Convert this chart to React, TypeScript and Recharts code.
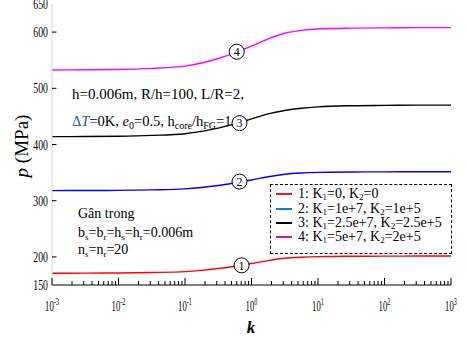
import React from 'react';
import { LineChart, Line, XAxis, YAxis, ReferenceDot, Legend, Customized } from 'recharts';

// ---- data ----
const kValues = [0.001, 0.00316, 0.01, 0.0316, 0.1, 0.178, 0.316, 0.562, 1, 1.78, 3.16, 5.62, 10, 31.6, 100, 316, 1000];
const pCurve1 = [171, 171.1, 171.4, 172.2, 173.8, 176.1, 179.3, 183.3, 188.2, 193.4, 197.5, 199.5, 200.5, 201.1, 201.3, 201.5, 201.5];
const pCurve2 = [318, 318.1, 318.4, 319.3, 321.1, 323.6, 327.1, 331.5, 336.9, 342.6, 347.1, 349.3, 350.4, 351.1, 351.3, 351.5, 351.5];
const pCurve3 = [414, 414.2, 414.7, 416.2, 419.2, 423.3, 429.2, 436.6, 445.5, 454.5, 460.5, 464.5, 467, 469, 469.6, 470, 470];
const pCurve4 = [532.5, 533, 533.5, 535.5, 539.5, 545, 553, 563, 575, 588, 598, 603, 605.5, 607, 607.5, 608, 608];

const xMajorTicks = [0.001, 0.01, 0.1, 1, 10, 100, 1000];
const xMajorExponents = ['-3', '-2', '-1', '0', '1', '2', '3'];
const xMinorMultipliers = [2, 3, 4, 5, 6, 7, 8, 9];
const xMinorDecades = [0.001, 0.01, 0.1, 1, 10, 100];
const yTicks = [150, 200, 300, 400, 500, 600, 650];

const seriesKeys = ['s1', 's2', 's3', 's4'];
const seriesIndex = ['1', '2', '3', '4'];
const k1Labels = ['0', '1e+7', '2.5e+7', '5e+7'];
const k2Labels = ['0', '1e+5', '2.5e+5', '2e+5'];
const lineColors = ['#ff0000', '#0000ff', '#000000', '#ff00ff'];
const legendColors = ['#f01c24', '#1a7ad4', '#000000', '#d4189e'];

const markerK = [0.71, 0.66, 0.66, 0.6];
const markerP = [185, 334, 438, 565];

const chartData = kValues.map((k, i) => ({
  k,
  s1: pCurve1[i],
  s2: pCurve2[i],
  s3: pCurve3[i],
  s4: pCurve4[i],
}));

const xMinorTicks = xMinorDecades.flatMap((d) => xMinorMultipliers.map((m) => +(m * d).toPrecision(3)));
const xAllTicks = [...xMajorTicks, ...xMinorTicks].sort((a, b) => a - b);

const SERIF = "Liberation Serif, Times New Roman, serif";

const majorIndex = (v: number) => xMajorTicks.findIndex((t) => Math.abs(Math.log10(t) - Math.log10(v)) < 1e-6);

const BottomTick = (props: any) => {
  const { x, y, payload } = props;
  const mi = majorIndex(payload.value);
  const major = mi >= 0;
  return (
    <g>
      <line x1={x} x2={x} y1={y} y2={y - (major ? 7 : 4)} stroke="#000" strokeWidth={1} />
      {major && (
        <text
          transform={`translate(${x},${y + 26}) scale(0.62,1)`}
          textAnchor="middle"
          fontFamily={SERIF}
          fontSize={14}
          fill="#000"
        >
          10
          <tspan dy={-6} fontSize={10}>{xMajorExponents[mi]}</tspan>
        </text>
      )}
    </g>
  );
};

const TopTick = (props: any) => {
  const { x, y, payload } = props;
  const major = majorIndex(payload.value) >= 0;
  return <line x1={x} x2={x} y1={y} y2={y + (major ? 7 : 4)} stroke="#000" strokeWidth={1} />;
};

const LeftTick = (props: any) => {
  const { x, y, payload } = props;
  const v = payload.value;
  const inner = v !== 150 && v !== 650;
  return (
    <g>
      {inner && <line x1={x} x2={x + 4.5} y1={y} y2={y} stroke="#000" strokeWidth={1} />}
      <text
        transform={`translate(${x - 4},${y + 5}) scale(0.7,1)`}
        textAnchor="end"
        fontFamily={SERIF}
        fontSize={14}
        fill="#000"
      >
        {v}
      </text>
    </g>
  );
};

const RightTick = (props: any) => {
  const { x, y, payload } = props;
  const v = payload.value;
  if (v === 150 || v === 650) return <g />;
  return <line x1={x} x2={x - 4.5} y1={y} y2={y} stroke="#9a9a9a" strokeWidth={1} />;
};

const Sub = ({ children, size = 9 }: { children: React.ReactNode; size?: number }) => (
  <tspan baselineShift="-30%" fontSize={size}>{children}</tspan>
);

const Annotations = () => (
  <g fontFamily={SERIF} fill="#000">
    <text x={72} y={99} fontSize={15}>h=0.006m, R/h=100, L/R=2,</text>
    <text x={72} y={126} fontSize={14.5}>
      <tspan fill="#2d56a6">Δ</tspan>
      <tspan fill="#2d56a6" fontStyle="italic">T</tspan>
      <tspan>=0K, </tspan>
      <tspan fontStyle="italic">e</tspan>
      <Sub size={10}>0</Sub>
      <tspan>=0.5, h</tspan>
      <Sub size={10}>core</Sub>
      <tspan>/h</tspan>
      <Sub size={10}>FG</Sub>
      <tspan>=1</tspan>
    </text>
    <text x={78} y={218} fontSize={14}>Gân trong</text>
    <text x={78} y={237} fontSize={14}>
      <tspan>b</tspan><Sub>s</Sub><tspan>=b</tspan><Sub>r</Sub><tspan>=h</tspan><Sub>s</Sub>
      <tspan>=h</tspan><Sub>r</Sub><tspan>=0.006m</tspan>
    </text>
    <text x={78} y={254} fontSize={14}>
      <tspan>n</tspan><Sub>s</Sub><tspan>=n</tspan><Sub>r</Sub><tspan>=20</tspan>
    </text>
    <text
      transform="translate(28,146) rotate(-90)"
      textAnchor="middle"
      fontSize={19}
    >
      <tspan fontStyle="italic">p</tspan>
      <tspan> (MPa)</tspan>
    </text>
    <text x={251} y={333} textAnchor="middle" fontSize={17} fontStyle="italic" fontWeight="bold">
      k
    </text>
  </g>
);

const subStyle: React.CSSProperties = { fontSize: 9, verticalAlign: '-2px', lineHeight: '8px' };

const LegendBox = () => (
  <div
    style={{
      border: '1px dashed #000',
      boxSizing: 'border-box',
      width: 182,
      height: 70,
      paddingTop: 2,
      paddingLeft: 5,
      fontFamily: SERIF,
      fontSize: 14,
      color: '#000',
      background: '#fff',
    }}
  >
    {seriesIndex.map((s, i) => (
      <div key={s} style={{ display: 'flex', alignItems: 'center', height: 14.4, lineHeight: '13px', whiteSpace: 'nowrap' }}>
        <span style={{ display: 'inline-block', width: 16, height: 0, borderTop: `2px solid ${legendColors[i]}`, marginRight: 6 }} />
        <span>
          {s}: K<span style={subStyle}>1</span>={k1Labels[i]}, K<span style={subStyle}>2</span>={k2Labels[i]}
        </span>
      </div>
    ))}
  </div>
);

export default function App() {
  return (
    <div style={{ position: 'absolute', left: 0, top: 0, background: '#fff' }}>
      <LineChart width={467} height={337} data={chartData} margin={{ top: 4, right: 16, bottom: 0, left: 0 }}>
        <XAxis
          dataKey="k"
          type="number"
          scale="log"
          domain={[0.001, 1000]}
          allowDataOverflow
          ticks={xAllTicks}
          interval={0}
          height={52}
          tickSize={0}
          tickMargin={0}
          tickLine={false}
          axisLine={{ stroke: '#000', strokeWidth: 1 }}
          tick={<BottomTick />}
        />
        <XAxis
          xAxisId="top"
          orientation="top"
          dataKey="k"
          type="number"
          scale="log"
          domain={[0.001, 1000]}
          allowDataOverflow
          ticks={xAllTicks}
          interval={0}
          height={0}
          tickSize={0}
          tickMargin={0}
          tickLine={false}
          axisLine={{ stroke: '#333', strokeWidth: 1 }}
          tick={<TopTick />}
        />
        <YAxis
          type="number"
          domain={[150, 650]}
          allowDataOverflow
          ticks={yTicks}
          interval={0}
          width={52}
          tickSize={0}
          tickMargin={0}
          tickLine={false}
          axisLine={{ stroke: '#d6d6d6', strokeWidth: 1 }}
          tick={<LeftTick />}
        />
        <YAxis
          yAxisId="right"
          orientation="right"
          type="number"
          domain={[150, 650]}
          allowDataOverflow
          ticks={yTicks}
          interval={0}
          width={0}
          tickSize={0}
          tickMargin={0}
          tickLine={false}
          axisLine={{ stroke: '#bdbdbd', strokeWidth: 1 }}
          tick={<RightTick />}
        />
        <Customized component={<Annotations />} />
        {seriesKeys.map((key, i) => (
          <Line
            key={key}
            dataKey={key}
            type="monotone"
            stroke={lineColors[i]}
            strokeWidth={1.4}
            dot={false}
            activeDot={false}
            isAnimationActive={false}
          />
        ))}
        {seriesIndex.map((s, i) => (
          <ReferenceDot
            key={`m${s}`}
            x={markerK[i]}
            y={markerP[i]}
            r={7.5}
            fill="#fff"
            stroke="#000"
            strokeWidth={1}
            label={{ value: s, position: 'center', fontSize: 12, fontFamily: SERIF, fill: '#000' }}
          />
        ))}
        <Legend
          layout="vertical"
          align="center"
          verticalAlign="middle"
          content={<LegendBox />}
          wrapperStyle={{ position: 'absolute', left: 270, top: 184, width: 182, height: 70 }}
        />
      </LineChart>
    </div>
  );
}
